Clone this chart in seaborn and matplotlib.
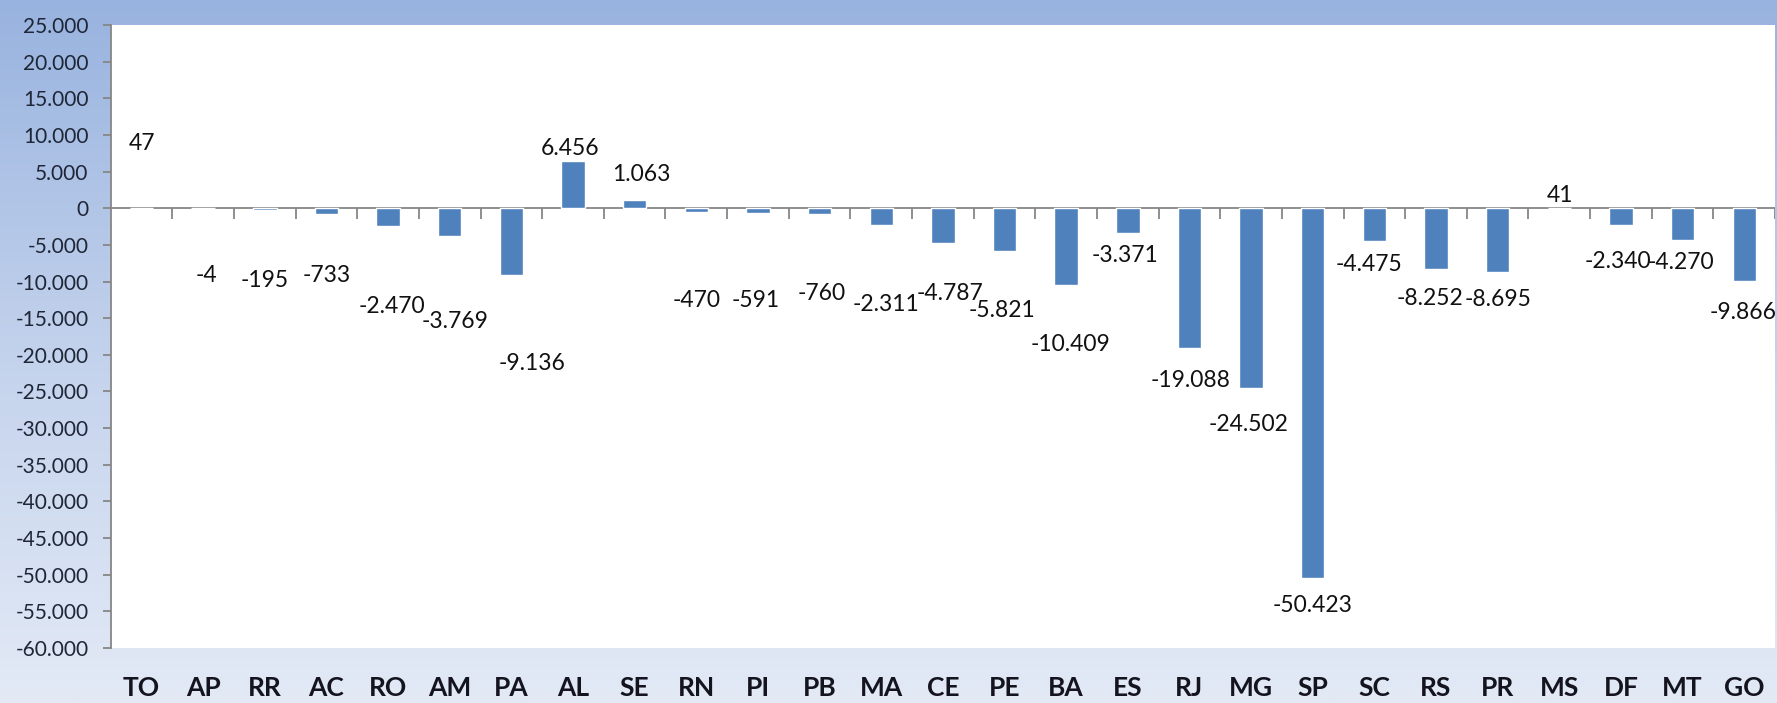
import numpy as np
import pandas as pd
import matplotlib
matplotlib.use("Agg")
import matplotlib.pyplot as plt
from matplotlib.colors import LinearSegmentedColormap
import seaborn as sns

# data
states = ["TO", "AP", "RR", "AC", "RO", "AM", "PA", "AL", "SE", "RN", "PI", "PB", "MA", "CE",
          "PE", "BA", "ES", "RJ", "MG", "SP", "SC", "RS", "PR", "MS", "DF", "MT", "GO"]
values = [47, -4, -195, -733, -2470, -3769, -9136, 6456, 1063, -470, -591, -760, -2311, -4787,
          -5821, -10409, -3371, -19088, -24502, -50423, -4475, -8252, -8695, 41, -2340, -4270, -9866]

# where each data label sits (manually placed labels in the original)
label_y = [8900, -9150, -9850, -9150, -13400, -15500, -21200, 8200, 4550, -12550, -12550, -11650,
           -13100, -11650, -14000, -18600, -6400, -23500, -29500, -54200, -7700, -12250, -12500,
           1700, -7200, -7400, -14250]
label_dx = [0, 0.05, 0, 0, 0.07, 0.09, 0.34, -0.04, 0.1, 0, -0.04, 0.04, 0.07, 0.12,
            -0.04, 0.07, -0.04, 0.02, -0.04, 0, -0.09, -0.1, 0, 0.01, -0.05, -0.03, -0.02]

yticks = np.arange(-60000, 25001, 5000)


def fmt_br(v):
    return f"{v:,.0f}".replace(",", ".")


df = pd.DataFrame({"estado": states, "saldo": values})

sns.set_style("white")
plt.rcParams["font.family"] = ["Lato", "DejaVu Sans"]

fig = plt.figure(figsize=(17.77, 7.03), dpi=100)

# blue gradient background
bg = fig.add_axes([0, 0, 1, 1], zorder=0)
grad = np.linspace(0, 1, 256).reshape(-1, 1)
cmap = LinearSegmentedColormap.from_list("bg", ["#98B3DF", "#C3D2EC", "#E3EAF6"])
bg.imshow(grad, aspect="auto", cmap=cmap, extent=[0, 1, 0, 1])
bg.axis("off")

ax = fig.add_axes([0.0623, 0.0782, 0.9366, 0.8862], zorder=1)
ax.set_facecolor("white")

sns.barplot(data=df, x="estado", y="saldo", color="#4F81BD", saturation=1,
            width=0.38, ax=ax, zorder=3)

ax.set_ylim(-60000, 25000)
ax.set_xlim(-0.5, len(states) - 0.5)
ax.set_yticks(yticks)
ax.set_yticklabels([fmt_br(v) for v in yticks])
ax.set_xlabel("")
ax.set_ylabel("")

# zero line with category separators
ax.axhline(0, color="#868686", lw=1.3, zorder=2)
bounds = np.arange(0.5, len(states), 1)
ax.vlines(bounds, 0, -1500, color="#868686", lw=1.3, zorder=2)

for s in ["top", "right", "bottom"]:
    ax.spines[s].set_visible(False)
ax.spines["left"].set_color("#868686")
ax.spines["left"].set_linewidth(1.3)

ax.tick_params(axis="y", direction="out", length=6, width=1.3, color="#868686",
               labelsize=15, labelcolor="#1E2637", pad=10, left=True)
ax.tick_params(axis="x", length=0, pad=20, labelsize=19, labelcolor="#14141E")
for t in ax.get_xticklabels():
    t.set_fontweight("bold")

for i, (v, ly, dx) in enumerate(zip(values, label_y, label_dx)):
    ax.text(i + dx, ly, fmt_br(v), ha="center", va="center", fontsize=16.5,
            color="#111111", zorder=4)

fig.savefig("out.png", dpi=100)
